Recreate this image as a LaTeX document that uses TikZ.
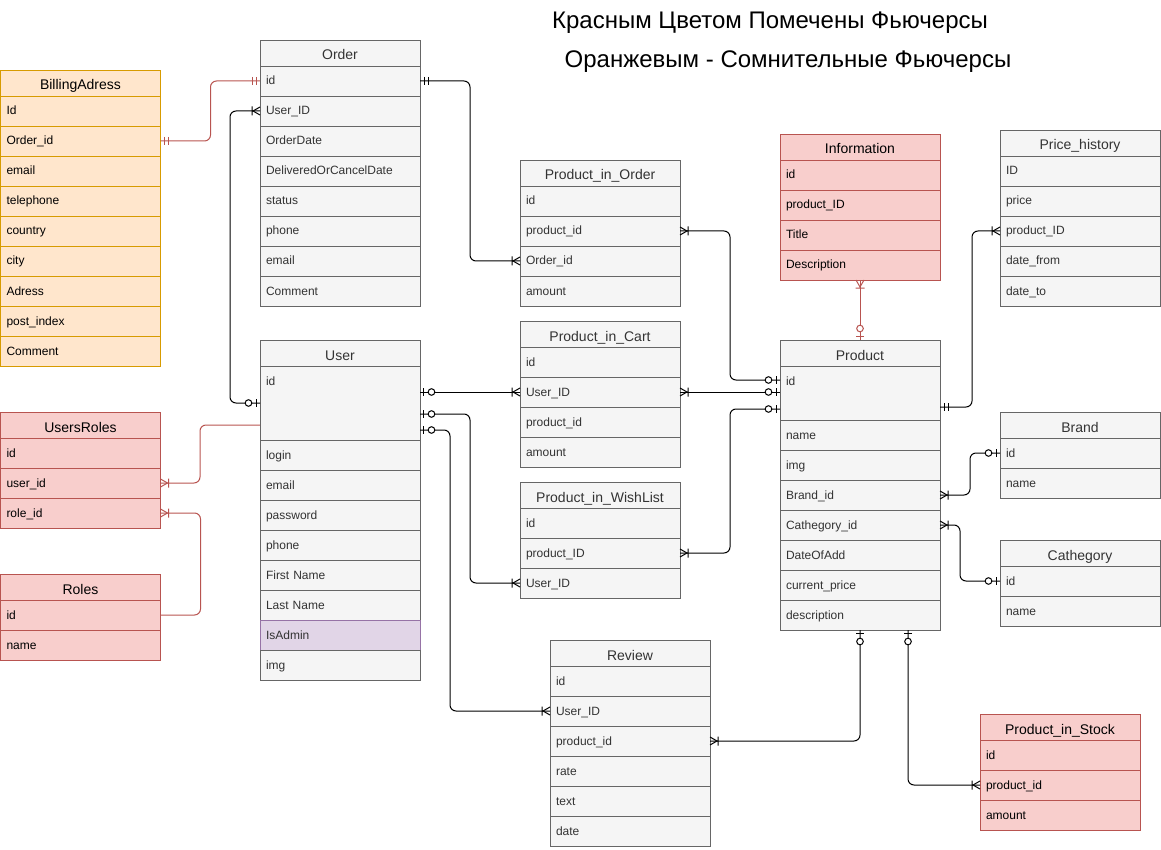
\documentclass[tikz,border=0pt]{standalone}
\usepackage{fontspec}
\setmainfont{Liberation Sans}
\usepackage{tikz}
\usetikzlibrary{positioning,decorations.markings}
\definecolor{ergrayfill}{HTML}{F5F5F5}
\definecolor{ergrayline}{HTML}{666666}
\definecolor{ergraytext}{HTML}{333333}
\definecolor{eramberfill}{HTML}{FFE6CC}
\definecolor{eramberline}{HTML}{D79B00}
\definecolor{errosefill}{HTML}{F8CECC}
\definecolor{erroseline}{HTML}{B85450}
\definecolor{erlilacfill}{HTML}{E1D5E7}
\definecolor{erlilacline}{HTML}{9673A6}

\begin{document}
\begin{tikzpicture}[x=1pt, y=-1pt,
    tablehead/.style={draw, rectangle, anchor=north west, minimum width=160pt, inner sep=0pt, outer sep=0pt, text height=20pt, text depth=6pt, font=\fontsize{14}{16}\selectfont},
    tablerow/.style={draw, rectangle, anchor=north west, text width=148pt, inner xsep=6pt, inner ysep=0pt, outer sep=0pt, align=left, text height=19pt, text depth=11pt, font=\fontsize{12}{14}\selectfont},
    greyish/.style={fill=ergrayfill, draw=ergrayline, text=ergraytext},
    amber/.style={fill=eramberfill, draw=eramberline, text=black},
    rose/.style={fill=errosefill, draw=erroseline, text=black},
    lilac/.style={fill=erlilacfill, draw=erlilacline, text=ergraytext},
    link/.style={color=black, line width=1pt, rounded corners=6pt},
    redlink/.style={link, color=erroseline},
    start mand/.style={postaction={decorate, decoration={markings, mark=at position 0 with {\draw[sharp corners] (4,-4) -- (4,4) (8,-4) -- (8,4);}}}},
    end mand/.style={postaction={decorate, decoration={markings, mark=at position 1 with {\draw[sharp corners] (-4,-4) -- (-4,4) (-8,-4) -- (-8,4);}}}},
    start zero/.style={postaction={decorate, decoration={markings, mark=at position 0 with {\draw[sharp corners] (3.5,-4) -- (3.5,4); \draw[fill=white] (11.5,0) circle[radius=3.3pt];}}}},
    end zero/.style={postaction={decorate, decoration={markings, mark=at position 1 with {\draw[sharp corners] (-3.5,-4) -- (-3.5,4); \draw[fill=white] (-11.5,0) circle[radius=3.3pt];}}}},
    start many/.style={postaction={decorate, decoration={markings, mark=at position 0 with {\draw[sharp corners] (0,-4) -- (7,0) -- (0,4) (8,-4.5) -- (8,4.5);}}}},
    end many/.style={postaction={decorate, decoration={markings, mark=at position 1 with {\draw[sharp corners] (0,-4) -- (-7,0) -- (0,4) (-8,-4.5) -- (-8,4.5);}}}}]

    \useasboundingbox (0,0) rectangle (1161,850);

    % legend
    \node [font=\fontsize{24}{28}\selectfont, anchor=base] (legendred) at (770,29) {Красным Цветом Помечены Фьючерсы};
    \node [font=\fontsize{24}{28}\selectfont, anchor=base] (legendorange) at (788,68) {Оранжевым - Сомнительные Фьючерсы};

    % tables
    \node [tablehead, amber] (bill) at (0.5,70) {BillingAdress};
    \foreach \f [count=\i] in {Id,Order\_id,email,telephone,country,city,Adress,post\_index,Comment}
        \node [tablerow, amber] (bill-\i) at ([yshift={-30*(\i-1)}]bill.south west) {\f};

    \node [tablehead, greyish] (order) at (260,40) {Order};
    \foreach \f [count=\i] in {id,User\_ID,OrderDate,DeliveredOrCancelDate,status,phone,email,Comment}
        \node [tablerow, greyish] (order-\i) at ([yshift={-30*(\i-1)}]order.south west) {\f};

    \node [tablehead, greyish] (user) at (260,340) {User};
    \node [tablerow, greyish, text depth=55pt] (user-1) at (user.south west) {id};
    \foreach \f/\s [count=\i from 2] in {login/greyish,email/greyish,password/greyish,phone/greyish,First Name/greyish,Last Name/greyish,IsAdmin/lilac,img/greyish}
        \node [tablerow, \s] (user-\i) at ([yshift={-30*(\i-2)}]user-1.south west) {\f};

    \node [tablehead, rose] (ur) at (0.5,412) {UsersRoles};
    \foreach \f [count=\i] in {id,user\_id,role\_id}
        \node [tablerow, rose] (ur-\i) at ([yshift={-30*(\i-1)}]ur.south west) {\f};

    \node [tablehead, rose] (roles) at (0.5,574) {Roles};
    \foreach \f [count=\i] in {id,name}
        \node [tablerow, rose] (roles-\i) at ([yshift={-30*(\i-1)}]roles.south west) {\f};

    \node [tablehead, greyish] (pio) at (520,160) {Product\_in\_Order};
    \foreach \f [count=\i] in {id,product\_id,Order\_id,amount}
        \node [tablerow, greyish] (pio-\i) at ([yshift={-30*(\i-1)}]pio.south west) {\f};

    \node [tablehead, greyish] (cart) at (520,321) {Product\_in\_Cart};
    \foreach \f [count=\i] in {id,User\_ID,product\_id,amount}
        \node [tablerow, greyish] (cart-\i) at ([yshift={-30*(\i-1)}]cart.south west) {\f};

    \node [tablehead, greyish] (wish) at (520,482) {Product\_in\_WishList};
    \foreach \f [count=\i] in {id,product\_ID,User\_ID}
        \node [tablerow, greyish] (wish-\i) at ([yshift={-30*(\i-1)}]wish.south west) {\f};

    \node [tablehead, greyish] (rev) at (550,640) {Review};
    \foreach \f [count=\i] in {id,User\_ID,product\_id,rate,text,date}
        \node [tablerow, greyish] (rev-\i) at ([yshift={-30*(\i-1)}]rev.south west) {\f};

    \node [tablehead, rose] (info) at (780,134) {Information};
    \foreach \f [count=\i] in {id,product\_ID,Title,Description}
        \node [tablerow, rose] (info-\i) at ([yshift={-30*(\i-1)}]info.south west) {\f};

    \node [tablehead, greyish] (price) at (1000,130) {Price\_history};
    \foreach \f [count=\i] in {ID,price,product\_ID,date\_from,date\_to}
        \node [tablerow, greyish] (price-\i) at ([yshift={-30*(\i-1)}]price.south west) {\f};

    \node [tablehead, greyish] (prod) at (780,340) {Product};
    \node [tablerow, greyish, text depth=35pt] (prod-1) at (prod.south west) {id};
    \foreach \f [count=\i from 2] in {name,img,Brand\_id,Cathegory\_id,DateOfAdd,current\_price,description}
        \node [tablerow, greyish] (prod-\i) at ([yshift={-30*(\i-2)}]prod-1.south west) {\f};

    \node [tablehead, greyish] (brand) at (1000,412) {Brand};
    \foreach \f [count=\i] in {id,name}
        \node [tablerow, greyish] (brand-\i) at ([yshift={-30*(\i-1)}]brand.south west) {\f};

    \node [tablehead, greyish] (cat) at (1000,540) {Cathegory};
    \foreach \f [count=\i] in {id,name}
        \node [tablerow, greyish] (cat-\i) at ([yshift={-30*(\i-1)}]cat.south west) {\f};

    \node [tablehead, rose] (stock) at (980,714) {Product\_in\_Stock};
    \foreach \f [count=\i] in {id,product\_id,amount}
        \node [tablerow, rose] (stock-\i) at ([yshift={-30*(\i-1)}]stock.south west) {\f};

    % relations
    \draw [redlink, start mand, end mand] (bill-2.east) -- ++(50,0) |- (order-1.west);
    \draw [link, start many, end zero] (order-2.west) -- ++(-30,0) |- (user-1.west);
    \draw [link, start mand, end many] (order-1.east) -- ++(50,0) |- (pio-3.west);
    \draw [link, start many, end zero] (pio-2.east) -- ++(50,0) |- ([yshift=13pt]prod-1.west);
    \draw [link, start zero, end many] (user-1.east |- cart-2.west) -- (cart-2.west);
    \draw [link, start many, end zero] (cart-2.east) -- (cart-2.east -| prod-1.west);
    \draw [link, start zero, end many] ([yshift=-11pt]user-1.east) -- ++(50,0) |- (wish-3.west);
    \draw [link, start zero, end many] ([yshift=-27pt]user-1.east) -- ++(30,0) |- (rev-2.west);
    \draw [link, start many, end zero] (wish-2.east) -- ++(50,0) |- ([yshift=-16pt]prod-1.west);
    \draw [redlink, start many, end zero] (info-4.south) -- (prod.north);
    \draw [link, start mand, end many] ([yshift=-14pt]prod-1.east) -- ++(32,0) |- (price-3.west);
    \draw [link, start many, end zero] (prod-4.east) -- ++(30,0) |- (brand-1.west);
    \draw [link, start many, end zero] (prod-5.east) -- ++(20,0) |- (cat-1.west);
    \draw [link, start many, end zero] (rev-3.east) -| (prod-8.south);
    \draw [link, start zero, end many] ([xshift=48pt]prod-8.south) |- (stock-2.west);
    \draw [redlink, end many] ([yshift=-22pt]user-1.west) -- ++(-60,0) |- (ur-2.east);
    \draw [redlink, end many] (roles-1.east) -- ++(40,0) |- (ur-3.east);
\end{tikzpicture}
\end{document}
